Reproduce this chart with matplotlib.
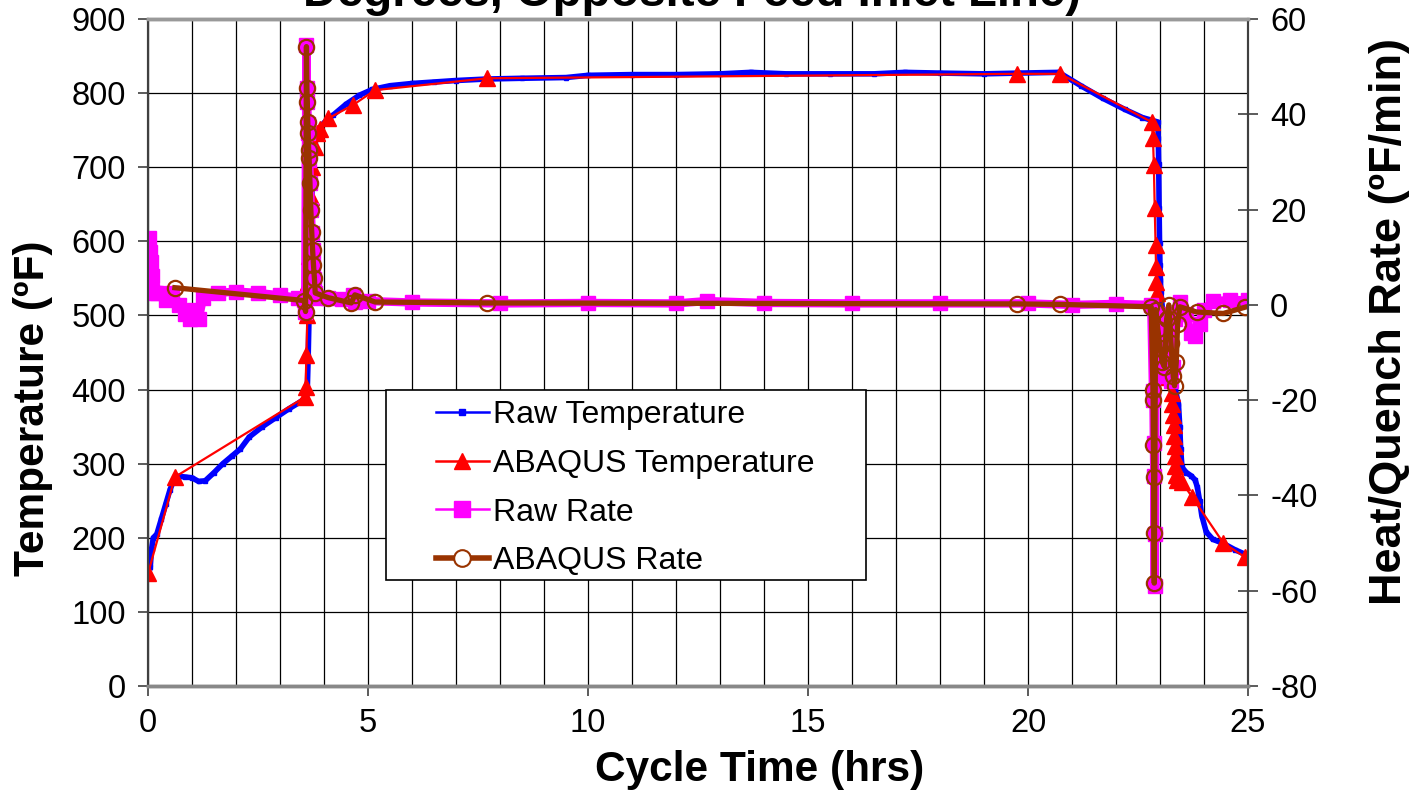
import matplotlib
matplotlib.use("Agg")
import matplotlib.pyplot as plt
from matplotlib.lines import Line2D
from matplotlib.patches import Rectangle
from matplotlib.ticker import MultipleLocator

plt.rcParams['font.family'] = ['Liberation Sans', 'DejaVu Sans']
plt.rcParams['axes.unicode_minus'] = False

# measured thermocouple temperature (hrs, degF)
raw_time = [0.05, 0.08, 0.12, 0.2, 0.3, 0.4, 0.5, 0.6, 0.7, 0.85, 1.0, 1.15, 1.3,
            1.5, 1.7, 1.9, 2.1, 2.3, 2.6, 2.9, 3.2, 3.45, 3.6, 3.62, 3.64, 3.66,
            3.68, 3.7, 3.72, 3.74, 3.76, 3.8, 3.9, 4.0, 4.2, 4.5, 4.8, 5.1, 5.5,
            6.0, 6.5, 7.0, 7.7, 8.5, 9.5, 10.0, 11.0, 12.0, 13.0, 13.7, 14.5,
            15.5, 16.5, 17.2, 18.0, 19.0, 19.8, 20.7, 21.2, 21.7, 22.2, 22.6,
            22.95, 22.96, 22.97, 22.98, 22.99, 23.0, 23.01, 23.02, 23.1, 23.2,
            23.35, 23.42, 23.45, 23.47, 23.5, 23.6, 23.7, 23.8, 23.85, 23.9,
            23.95, 24.05, 24.2, 24.45, 24.7, 25.0]
raw_temp = [160, 185, 200, 205, 225, 245, 265, 280, 283, 282, 281, 276, 277,
            288, 300, 310, 320, 336, 350, 362, 374, 383, 390, 400, 445, 500,
            560, 610, 655, 690, 715, 735, 752, 760, 770, 785, 797, 805, 810,
            813, 815, 817, 819, 820, 821, 824, 825, 825, 826, 828, 826,
            826, 826, 828, 827, 826, 827, 828, 810, 793, 778, 767,
            761, 740, 705, 645, 598, 568, 548, 532, 480, 430,
            400, 380, 350, 320, 295, 288, 284, 278, 268, 250,
            230, 208, 198, 192, 184, 176]

# ABAQUS model temperature
abq_time = [0.0, 0.61, 3.57, 3.58, 3.6, 3.62, 3.64, 3.66, 3.68, 3.7, 3.72, 3.8,
            3.85, 3.9, 4.1, 4.66, 5.16, 7.7, 19.75, 20.73, 22.81, 22.84, 22.86,
            22.88, 22.9, 22.91, 22.92, 22.93, 23.1, 23.27, 23.28, 23.3, 23.31,
            23.32, 23.33, 23.34, 23.35, 23.36, 23.38, 23.5, 23.73, 24.44, 24.93]
abq_temp = [152, 282, 390, 404, 447, 500, 545, 580, 620, 660, 700, 727,
            746, 752, 766, 784, 804, 820, 826, 826, 761, 739, 703,
            645, 595, 565, 545, 530, 417, 395, 380, 366, 352,
            338, 324, 310, 297, 285, 278, 275, 255, 193, 174]

# measured heat/quench rate (degF/min)
rate_time = [0.0, 0.02, 0.04, 0.06, 0.08, 0.1, 0.15, 0.2, 0.4, 0.55, 0.7, 0.85,
             0.95, 1.05, 1.15, 1.25, 1.6, 2.0, 2.5, 3.0, 3.4, 3.55, 3.57, 3.6,
             3.61, 3.62, 3.63, 3.64, 3.65, 3.66, 3.68, 3.7, 3.72, 3.74, 3.76,
             3.78, 3.8, 3.9, 4.1, 4.4, 4.65, 4.7, 5.0, 6.0, 8.0, 10.0, 12.0,
             12.7, 14.0, 16.0, 18.0, 20.0, 21.0, 22.0, 22.8, 22.84, 22.85,
             22.86, 22.87, 22.875, 22.88, 22.9, 22.95, 23.0, 23.05, 23.1, 23.15,
             23.2, 23.25, 23.3, 23.35, 23.45, 23.6, 23.7, 23.8, 23.9, 24.0,
             24.2, 24.6, 25.0]
rate_raw = [13.5, 14.0, 11.0, 9.0, 6.0, 3.0, 2.5, 2.5, 1.0, 2.5, 0.0, -2.0,
            -3.0, -1.0, -3.0, 1.5, 2.5, 2.8, 2.5, 2.0, 1.5, 1.0, -1.4, 54.5,
            45.5, 42.5, 38.0, 36.0, 32.0, 30.5, 25.5, 20.0, 15.0, 11.5, 8.5,
            5.5, 2.5, 1.5, 1.5, 1.2, 2.0, 0.5, 0.8, 0.5, 0.3, 0.4, 0.3,
            0.8, 0.4, 0.3, 0.3, 0.3, 0.0, 0.2, 0.0, -18.0, -20.0,
            -29.0, -36.0, -48.0, -59.0, -2.0, -6.0, -12.0, -10.0, -15.0, -2.0,
            -9.0, -16.0, -13.0, -3.0, 0.5, -2.0, -6.0, -6.5, -4.0, -1.0,
            0.8, 1.0, 1.0]

# ABAQUS model heat/quench rate
abq_rate_time = [0.61, 3.55, 3.58, 3.6, 3.61, 3.62, 3.63, 3.64, 3.65, 3.66, 3.68,
                 3.7, 3.72, 3.74, 3.76, 3.78, 3.8, 4.1, 4.62, 4.7, 5.16, 7.7,
                 19.75, 20.73, 22.8, 22.84, 22.845, 22.85, 22.855, 22.86, 22.87,
                 22.9, 22.95, 23.0, 23.05, 23.1, 23.15, 23.2, 23.25, 23.3, 23.33,
                 23.37, 23.4, 23.45, 23.83, 24.44, 24.93]
abq_rate = [3.6, 0.9, -1.4, 54.2, 45.5, 42.6, 38.4, 36.1, 32.5, 30.8, 25.6,
            19.9, 15.3, 11.5, 8.4, 5.7, 2.5, 1.5, 0.4, 2.1, 0.6, 0.4,
            0.2, 0.1, -0.4, -17.8, -19.9, -29.4, -36.1, -47.9, -58.4,
            -1.0, -5.0, -9.0, -12.0, -13.0, -3.0, 0.0, -8.0, -15.0, -17.0,
            -12.0, -4.0, -0.4, -1.5, -1.8, -0.5]

BLUE = '#0000FF'
RED = '#FF0000'
MAGENTA = '#FF00FF'
BROWN = '#993300'

fig = plt.figure(figsize=(14.14, 7.91), dpi=100)
ax = fig.add_axes([0.1047, 0.1327, 0.7779, 0.8433])
ax2 = ax.twinx()

ax.plot(raw_time, raw_temp, color=BLUE, lw=4, marker='s', ms=3.5)
ax.plot(abq_time, abq_temp, color=RED, lw=1.6, marker='^', ms=11)
ax2.plot(rate_time, rate_raw, color=MAGENTA, lw=6, marker='s', ms=10)
ax2.plot(abq_rate_time, abq_rate, color=BROWN, lw=3.8, marker='o', ms=11,
         mfc='none', mec=BROWN, mew=1.6)

ax.set_xlim(0, 25)
ax.set_ylim(0, 900)
ax2.set_ylim(-80, 60)

ax.xaxis.set_major_locator(MultipleLocator(5))
ax.xaxis.set_minor_locator(MultipleLocator(1))
ax.yaxis.set_major_locator(MultipleLocator(100))
ax2.yaxis.set_major_locator(MultipleLocator(20))

ax.grid(axis='x', which='both', color='black', lw=0.9)
ax.grid(axis='y', which='major', color='black', lw=0.9)
ax.set_axisbelow(True)

ax.tick_params(axis='both', which='major', labelsize=23.5, direction='out',
               length=7, width=1.2, color='#404040')
ax.tick_params(axis='x', which='minor', length=0)
ax.tick_params(axis='x', pad=9)
ax.tick_params(axis='y', pad=9)
ax2.tick_params(axis='y', labelsize=23.5, direction='inout', length=14,
                width=1.2, pad=9, color='#404040')

for a in (ax, ax2):
    a.spines['top'].set_color('#999999')
    a.spines['top'].set_linewidth(2.5)
    a.spines['bottom'].set_color('#888888')
    a.spines['bottom'].set_linewidth(2.5)
    a.spines['left'].set_color('#404040')
    a.spines['left'].set_linewidth(1.5)
    a.spines['right'].set_color('#404040')
    a.spines['right'].set_linewidth(1.5)

ax.set_xlabel('Cycle Time (hrs)', fontsize=30.5, fontweight='bold')
ax.xaxis.set_label_coords(0.556, -0.126)
ax.xaxis.label.set_va('center')
ax.set_ylabel('Temperature (ºF)', fontsize=30.5, fontweight='bold')
ax.yaxis.set_label_coords(-0.105, 0.417)
ax.yaxis.label.set_va('center')
ax2.set_ylabel('Heat/Quench Rate (ºF/min)', fontsize=32.5, fontweight='bold')
ax2.yaxis.set_label_coords(1.129, 0.547)
ax2.yaxis.label.set_va('center')

fig.text(692 / 1414, 1 - 6 / 791, 'Degrees, Opposite Feed Inlet Line)',
         ha='center', va='baseline', fontsize=34, fontweight='bold')

# legend box drawn by hand so the padding can differ left/top
ax2.add_patch(Rectangle((0.2164, 0.159), 0.4364, 0.285, transform=ax2.transAxes,
                        facecolor='white', edgecolor='black', lw=1.2, zorder=4.9))
handles = [
    Line2D([], [], color=BLUE, lw=1.8, marker='s', ms=4),
    Line2D([], [], color=RED, lw=1.8, marker='^', ms=12),
    Line2D([], [], color=MAGENTA, lw=1.8, marker='s', ms=12),
    Line2D([], [], color=BROWN, lw=4, marker='o', ms=12, mfc='white', mec=BROWN,
           mew=1.5),
]
labels = ['Raw Temperature', 'ABAQUS Temperature', 'Raw Rate', 'ABAQUS Rate']
leg = ax2.legend(handles, labels, loc='upper left', bbox_to_anchor=(0.2414, 0.4625),
                 frameon=False, fontsize=23, handlelength=1.65, handletextpad=0.15,
                 labelspacing=0.59, borderpad=0.2)
leg.set_zorder(5)

fig.savefig('out.png', dpi=100)
